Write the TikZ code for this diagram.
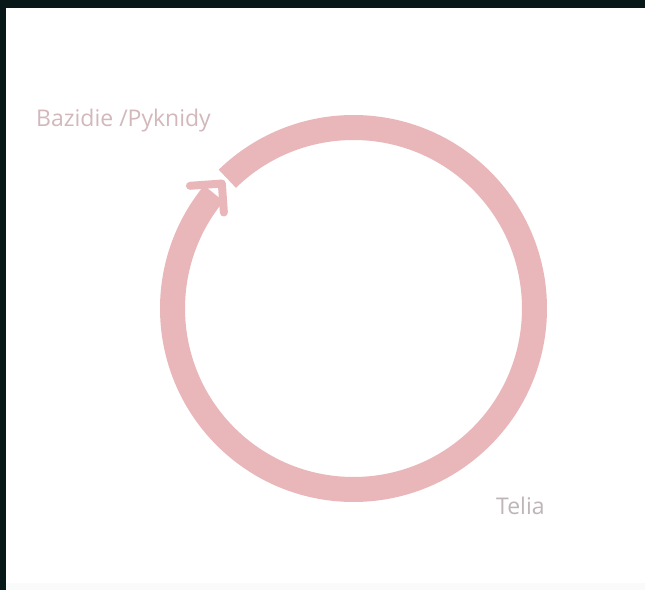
\documentclass[tikz,border=0pt]{standalone}
\usepackage{fontspec}
\setmainfont{Open Sans}
\definecolor{ring}{HTML}{E9B7BA}
\definecolor{labpink}{HTML}{D2B8BB}
\definecolor{labgrey}{HTML}{BFB5B7}
\definecolor{frame}{HTML}{081818}
\tikzset{
  ringline/.style={draw=ring, line width=25pt, line cap=butt},
  headline/.style={draw=ring, line width=8pt, line cap=round, line join=round},
  lab/.style={inner sep=0pt, font=\fontsize{23}{27}\selectfont}
}
\begin{document}
\begin{tikzpicture}[x=1pt,y=1pt]
\useasboundingbox (0,0) rectangle (645,590);
\fill[white] (0,0) rectangle (645,590);
\fill[frame] (0,582) rectangle (645,590);
\fill[frame] (0,0) rectangle (6,590);
\fill[black!2] (6,0) rectangle (645,7);
\coordinate (c) at (353.5,281.5);
\coordinate (tip) at ([shift={(136.5:181.5)}]c);
\coordinate (armA) at ([shift={(184:32)}]tip);
\coordinate (armB) at ([shift={(274:29)}]tip);
% ring: clockwise from the gap round to the arrow head
\draw[ringline] ([shift={(134.2:181)}]c) arc[start angle=134.2, end angle=-219.5, radius=181];
\draw[headline] (armA) -- (tip) -- (armB);
\node[lab, text=labpink, anchor=base west] (baz) at (36,463) {Bazidie /Pyknidy};
\node[lab, text=labgrey, anchor=base west] (tel) at (496,76) {Telia};
\end{tikzpicture}
\end{document}
